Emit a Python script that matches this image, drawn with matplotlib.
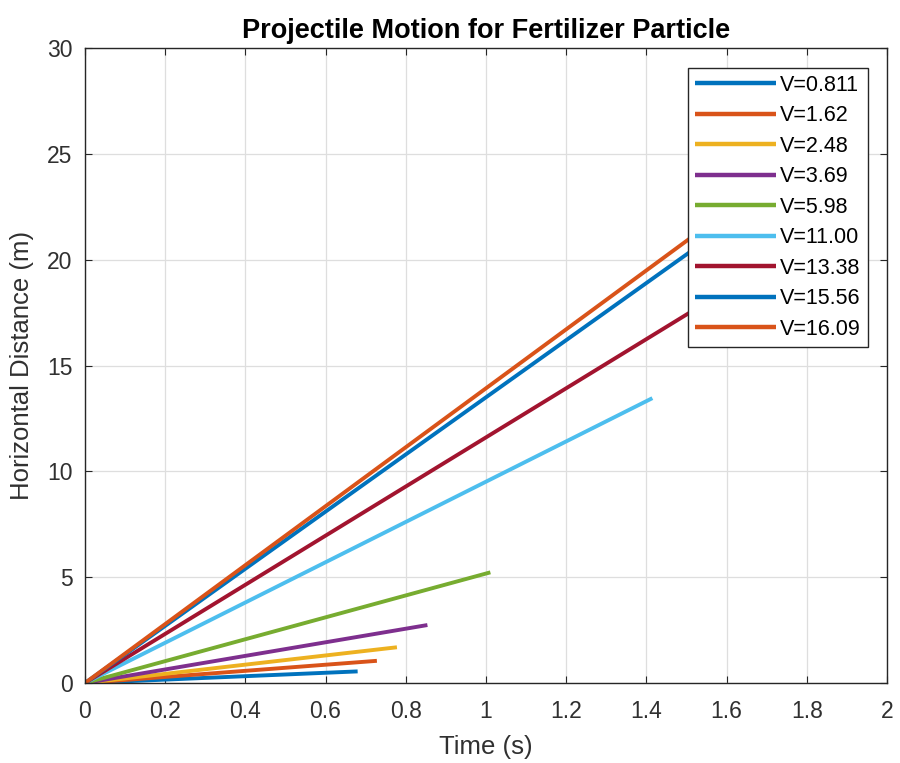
import matplotlib
matplotlib.use("Agg")
import matplotlib.pyplot as plt

plt.rcParams['font.family'] = ['Liberation Sans', 'DejaVu Sans']

labels = ["V=0.811", "V=1.62", "V=2.48", "V=3.69", "V=5.98",
          "V=11.00", "V=13.38", "V=15.56", "V=16.09"]
t_end = [0.68, 0.728, 0.778, 0.854, 1.011, 1.415, 1.62, 1.815, 1.86]
x_end = [0.55, 1.05, 1.69, 2.74, 5.23, 13.46, 18.8, 24.5, 25.9]
colors = ["#0072BD", "#D95319", "#EDB120", "#7E2F8E", "#77AC30",
          "#4DBEEE", "#A2142F", "#0072BD", "#D95319"]
xticks = [0, 0.2, 0.4, 0.6, 0.8, 1, 1.2, 1.4, 1.6, 1.8, 2]
yticks = [0, 5, 10, 15, 20, 25, 30]

fig = plt.figure(figsize=(9, 7.63), dpi=100)
ax = fig.add_axes([0.0944, 0.1048, 0.8911, 0.8322])

for lab, te, xe, c in zip(labels, t_end, x_end, colors):
    ax.plot([0, te], [0, xe], color=c, lw=2.8, label=lab, solid_capstyle='butt')

ax.set_xlim(0, 2)
ax.set_ylim(0, 30)
ax.set_xticks(xticks)
ax.set_xticklabels([f"{v:g}" for v in xticks])
ax.set_yticks(yticks)
ax.grid(True, color="#dedede", lw=0.9)
ax.set_axisbelow(True)
ax.tick_params(direction='in', top=True, right=True, labelsize=16.5,
               length=5, colors="#262626", labelcolor="#303030")
ax.tick_params(axis='x', pad=12.5)
ax.tick_params(axis='y', pad=9)
for s in ax.spines.values():
    s.set_color("#262626")
    s.set_linewidth(1.0)

ax.set_title("Projectile Motion for Fertilizer Particle", fontsize=19.5,
             fontweight='bold', pad=7)
ax.set_xlabel("Time (s)", fontsize=18.5, color="#303030", labelpad=8)
ax.set_ylabel("Horizontal Distance (m)", fontsize=18.5, color="#303030", labelpad=9)

leg = ax.legend(loc='upper right', bbox_to_anchor=(0.9763, 0.9685),
                fontsize=15.5, frameon=True, fancybox=False, handlelength=3.75,
                handletextpad=0.22, borderpad=0.32, labelspacing=0.44,
                borderaxespad=0)
leg.get_frame().set_edgecolor("#262626")
leg.get_frame().set_linewidth(1.0)
leg.get_frame().set_alpha(1)
for line in leg.get_lines():
    line.set_linewidth(3.2)

fig.savefig("out.png", dpi=100)
